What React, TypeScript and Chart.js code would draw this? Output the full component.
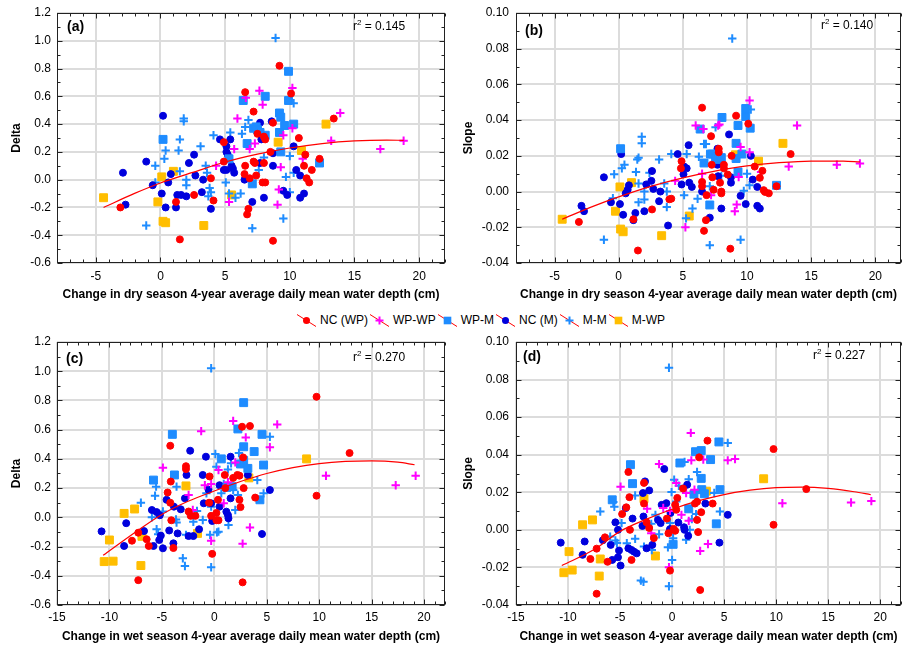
import React, { useEffect, useRef } from 'react';
import { Chart, registerables } from 'chart.js';
Chart.register(...registerables);

const FONT = '"Liberation Sans", Arial, Helvetica, sans-serif';

type Pt = [number, number];

// ---------- tick labels ----------
const xTicksDry = [-5, 0, 5, 10, 15, 20];
const xTicksWet = [-15, -10, -5, 0, 5, 10, 15, 20];
const yTicksDelta = [-0.6, -0.4, -0.2, 0, 0.2, 0.4, 0.6, 0.8, 1.0, 1.2];
const yTicksSlope = [-0.04, -0.02, 0, 0.02, 0.04, 0.06, 0.08, 0.1];

const seriesNames = ['NC (WP)', 'WP-WP', 'WP-M', 'NC (M)', 'M-M', 'M-WP'];

// ---------- panel (a): Delta vs dry-season change ----------
const aNCWP: Pt[] = [[-3.1,-0.20],[1.2,-0.16],[1.5,-0.43],[2.6,-0.11],[3.9,0.01],[4.1,-0.15],[4.9,0.27],[4.9,0.13],[6.55,0.63],[6.55,0.10],[6.5,0.04],[6.7,-0.25],[6.8,-0.21],[6.9,0.01],[7.2,0.49],[7.2,0.13],[7.3,0.12],[7.4,0.03],[7.5,0.33],[8.1,0.29],[8.0,0.31],[8.0,0.12],[7.9,-0.02],[8.1,-0.02],[8.5,0.20],[8.7,0.41],[8.7,-0.44],[9.2,0.82],[10.1,0.62],[10.7,0.30],[11.1,0.10],[11.2,0.18],[11.3,0.01],[11.5,-0.02],[11.7,0.07],[12.3,0.15],[13.4,0.44]];
const aWPWP: Pt[] = [[4.3,0.10],[5.3,-0.16],[5.7,0.22],[5.95,0.44],[6.6,0.59],[6.9,0.22],[7.3,0.26],[7.65,0.64],[7.9,0.54],[9.15,-0.07],[9.05,-0.18],[9.3,0.09],[9.5,0.32],[10.2,0.66],[10.2,0.37],[11.0,0.15],[13.2,0.28],[13.9,0.48],[17.0,0.22],[18.8,0.28]];
const aWPM: Pt[] = [[0.2,0.29],[5.3,0.15],[6.4,0.57],[6.7,0.26],[7.2,0.37],[7.4,0.38],[7.5,0.36],[7.7,0.34],[8.1,0.60],[8.1,0.32],[7.1,-0.03],[9.2,0.48],[9.3,0.45],[9.2,0.34],[9.6,0.39],[9.9,0.78],[9.9,0.57],[10.3,0.40],[9.3,0.20],[12.3,0.12]];
const aNCM: Pt[] = [[-2.9,0.05],[-2.7,-0.18],[-1.1,0.13],[-0.6,-0.04],[0.1,-0.10],[0.2,0.46],[0.4,-0.20],[0.6,-0.02],[0.8,0.04],[1.3,-0.11],[1.2,-0.20],[1.6,-0.11],[2.0,-0.12],[2.2,0.12],[2.6,0.18],[2.7,0.03],[3.2,-0.09],[3.3,0.00],[3.9,-0.21],[4.6,0.29],[4.9,0.07],[5.1,0.24],[5.1,0.20],[5.2,0.18],[5.1,0.07],[5.4,0.29],[5.5,0.10],[5.6,0.08],[5.7,0.05],[6.5,0.00],[7.1,-0.16],[7.7,0.41],[7.8,0.29],[7.7,0.12],[8.0,-0.13],[8.6,0.42],[8.7,0.19],[8.7,0.10],[9.5,-0.08],[9.8,-0.11],[10.3,0.24],[10.5,0.07],[10.8,0.03],[10.8,-0.13],[11.1,-0.10]];
const aMM: Pt[] = [[-1.1,-0.33],[-0.4,0.10],[-0.4,-0.02],[0.3,0.15],[0.4,0.21],[1.8,0.44],[1.8,0.42],[1.5,0.29],[1.4,0.21],[1.5,0.06],[2.0,0.00],[2.0,-0.04],[3.1,0.24],[3.5,0.10],[3.6,0.05],[3.8,-0.06],[3.9,-0.09],[4.1,0.32],[3.7,-0.12],[5.05,-0.02],[5.4,0.34],[5.3,-0.10],[6.2,-0.10],[5.8,-0.13],[6.3,0.33],[6.55,0.38],[6.8,0.43],[7.1,-0.35],[7.6,0.07],[8.0,0.16],[8.9,1.02],[9.7,0.02],[9.5,-0.28],[10.0,0.17],[10.0,-0.09],[10.3,0.55],[10.3,0.05]];
const aMWP: Pt[] = [[-4.4,-0.13],[-0.2,-0.16],[0.1,0.02],[0.2,-0.30],[0.4,-0.31],[1.0,0.06],[3.35,-0.33],[5.5,-0.11],[9.1,0.27],[10.9,0.21],[12.8,0.40]];
const aFit: Pt[] = [[-4.4,-0.20],[-2,-0.099],[0,-0.024],[2.5,0.052],[5,0.127],[7.5,0.184],[10,0.228],[12.5,0.26],[15,0.279],[17.5,0.285],[18.8,0.283]];

// ---------- panel (b): Slope vs dry-season change ----------
const bNCWP: Pt[] = [[-3.1,-0.017],[1.5,-0.033],[1.15,-0.0155],[2.6,-0.010],[3.95,-0.0043],[4.1,-0.004],[4.9,0.017],[4.85,0.013],[6.5,0.047],[6.5,0.0054],[6.5,0.003],[6.65,-0.022],[6.8,-0.016],[6.85,-0.002],[7.2,0.031],[7.25,0.015],[7.3,0.008],[7.4,0.001],[7.8,0.024],[7.8,0.022],[8.2,0.015],[8.2,0.013],[7.9,0.005],[8.0,0.0],[8.0,-0.001],[8.5,0.0095],[8.8,0.020],[8.7,-0.032],[9.15,0.0425],[10.1,0.038],[10.6,0.014],[11.2,0.0116],[11.0,0.0077],[11.3,0.0008],[11.4,-0.0002],[11.7,-0.001],[12.3,0.003],[13.4,0.021]];
const bWPWP: Pt[] = [[4.4,0.006],[5.2,-0.020],[6.0,0.037],[6.6,0.035],[6.5,0.010],[7.2,-0.002],[7.75,0.037],[7.85,0.0375],[9.2,-0.0073],[9.05,-0.011],[9.35,0.0082],[9.5,0.025],[10.2,0.051],[10.2,0.022],[11.1,0.011],[13.25,0.014],[13.9,0.037],[17.0,0.015],[18.8,0.0157]];
const bWPM: Pt[] = [[0.15,0.024],[6.35,0.035],[6.65,0.016],[7.15,0.021],[7.3,0.021],[7.55,0.019],[7.8,0.018],[8.0,0.019],[8.05,0.0415],[7.1,-0.0075],[9.15,0.027],[9.3,0.037],[9.15,0.0185],[9.3,0.011],[9.6,0.021],[9.9,0.0465],[9.9,0.042],[10.25,0.0355],[12.3,0.0035]];
const bNCM: Pt[] = [[-2.9,-0.008],[-2.7,-0.011],[-1.15,0.008],[-0.6,-0.006],[0.1,-0.007],[0.2,0.021],[0.35,-0.013],[0.55,-0.001],[0.7,0.001],[0.8,0.0035],[1.15,-0.016],[1.3,-0.012],[2.0,-0.011],[2.15,0.004],[2.55,0.006],[2.6,0.0115],[2.7,0.0015],[3.15,-0.0054],[3.25,0.0],[3.85,-0.019],[4.6,0.021],[4.9,0.004],[5.1,0.014],[5.05,0.0097],[5.3,0.013],[5.45,0.026],[5.5,0.005],[5.7,0.0026],[6.5,0.0],[7.1,-0.0146],[7.7,0.024],[7.7,0.015],[7.75,0.0086],[8.0,-0.0095],[8.6,0.032],[8.75,0.008],[8.75,0.005],[9.5,-0.0024],[9.9,-0.007],[10.3,0.020],[10.45,0.0067],[10.8,0.0026],[10.8,-0.008],[11.0,-0.0095]];
const bMM: Pt[] = [[-1.15,-0.027],[-0.35,0.0097],[-0.45,-0.0037],[0.25,0.013],[0.45,0.015],[1.8,0.0307],[1.8,0.027],[1.45,0.018],[1.55,0.019],[1.35,0.011],[1.55,0.0045],[1.55,-0.006],[2.0,0.0],[2.0,-0.0045],[2.4,0.0105],[3.15,0.018],[3.55,0.0045],[3.75,0.0],[3.75,-0.0086],[4.1,0.021],[5.1,-0.002],[5.3,0.021],[5.25,-0.015],[5.75,-0.0095],[6.15,-0.004],[6.25,0.0195],[6.65,0.0266],[6.8,0.0266],[7.55,0.036],[7.1,-0.030],[7.1,0.003],[8.0,0.0088],[8.85,0.0857],[9.5,-0.027],[9.75,0.0004],[10.0,0.010],[10.2,0.0035],[10.3,0.046]];
const bMWP: Pt[] = [[-4.4,-0.0155],[-0.25,-0.011],[0.1,0.0026],[0.15,-0.021],[0.35,-0.0225],[1.0,0.005],[3.35,-0.0247],[5.5,-0.0137],[9.1,0.0206],[10.9,0.017],[12.8,0.027]];
const bFit: Pt[] = [[-4.4,-0.0155],[-2,-0.0083],[0,-0.003],[2.5,0.0029],[5,0.0077],[7.5,0.0115],[10,0.0144],[12.5,0.0162],[15,0.0171],[17.5,0.017],[18.8,0.0166]];

// ---------- panel (c): Delta vs wet-season change ----------
const cNCWP: Pt[] = [[-7.25,-0.105],[-7.85,-0.16],[-7.25,-0.43],[-6.45,-0.15],[-6.25,-0.196],[-4.2,0.10],[-4.45,0.17],[-4.15,0.245],[-4.2,0.49],[-4.1,-0.02],[-3.9,-0.21],[-2.7,0.35],[-2.7,0.33],[-2.45,0.04],[-2.25,0.01],[-1.8,0.01],[-0.5,0.10],[-0.45,0.28],[-0.3,0.01],[-0.2,-0.25],[0.2,0.03],[0.2,-0.02],[0.4,-0.02],[0.35,0.12],[1.0,0.29],[1.05,0.20],[1.8,0.27],[2.2,0.29],[2.4,0.285],[2.4,0.12],[2.5,0.07],[2.65,0.62],[2.7,-0.445],[2.75,0.41],[2.8,0.20],[3.4,0.625],[3.9,0.135],[9.75,0.825],[9.75,0.148],[12.9,0.44]];
const cWPWP: Pt[] = [[-4.9,0.34],[-2.45,0.153],[-2.05,0.05],[-1.25,0.59],[-0.9,0.22],[-0.3,-0.16],[-0.3,0.228],[0.4,0.324],[0.9,0.096],[1.3,0.24],[1.8,0.66],[2.0,0.376],[2.7,-0.18],[3.0,0.547],[3.4,-0.07],[5.3,0.48],[6.0,0.636],[10.65,0.285],[17.3,0.22],[19.2,0.285]];
const cWPM: Pt[] = [[-5.8,0.255],[-4.0,0.568],[-3.8,0.29],[0.67,0.40],[1.2,0.205],[1.7,0.21],[2.25,0.605],[2.5,0.365],[2.8,0.785],[2.8,0.483],[2.8,0.39],[3.2,0.335],[3.8,0.45],[4.55,0.568],[4.7,0.358],[4.35,0.12]];
const cNCM: Pt[] = [[-10.75,-0.096],[-8.6,-0.196],[-8.4,-0.04],[-6.7,-0.094],[-5.95,0.05],[-5.8,-0.196],[-5.5,0.036],[-5.25,-0.155],[-5.2,0.014],[-5.1,-0.125],[-4.9,-0.212],[-4.55,0.12],[-4.3,-0.09],[-3.9,-0.178],[-3.85,0.073],[-3.5,-0.11],[-3.2,0.055],[-2.8,0.13],[-2.65,0.29],[-2.45,-0.128],[-2.3,0.456],[-2.0,-0.128],[-1.45,-0.082],[-1.1,0.29],[-1.0,0.096],[-0.8,0.415],[-0.55,0.19],[-0.3,0.096],[-0.2,-0.025],[0.5,0.22],[0.5,0.073],[1.15,0.039],[1.3,0.016],[1.35,-0.007],[1.55,0.415],[1.55,0.13],[3.2,0.29],[4.55,-0.114],[5.3,0.187]];
const cMM: Pt[] = [[-7.0,0.10],[-5.95,0.0],[-5.65,0.148],[-5.55,0.21],[-5.5,-0.082],[-5.35,-0.116],[-4.9,0.04],[-3.6,0.21],[-3.65,-0.014],[-3.6,-0.036],[-3.0,-0.28],[-2.8,-0.333],[-2.7,-0.12],[-2.0,-0.03],[-1.65,0.043],[-1.1,-0.018],[-0.75,0.164],[-0.4,-0.12],[-0.3,-0.342],[-0.3,1.02],[-0.3,0.073],[0.1,0.433],[0.2,0.347],[0.25,-0.103],[0.4,-0.098],[0.67,0.164],[0.9,0.228],[1.3,0.328],[1.35,-0.052],[1.6,0.37],[1.8,0.187],[2.0,0.05],[2.25,0.153],[2.35,0.44],[4.1,0.255],[4.7,0.164],[5.3,0.552]];
const cMWP: Pt[] = [[-10.5,-0.303],[-9.65,-0.30],[-10.0,-0.155],[-8.6,0.027],[-7.6,0.057],[-7.0,-0.33],[-6.9,-0.13],[-2.7,0.215],[-1.6,-0.11],[3.3,0.27],[8.8,0.40]];
const cFit: Pt[] = [[-10.6,-0.26],[-7.5,-0.10],[-5,0.02],[-2.5,0.11],[0,0.18],[2.5,0.245],[5,0.30],[7.5,0.34],[10,0.368],[12.5,0.383],[15,0.387],[17.5,0.378],[19.1,0.36]];

// ---------- panel (d): Slope vs wet-season change ----------
const dNCWP: Pt[] = [[-7.25,-0.034],[-7.25,-0.010],[-7.85,-0.0155],[-6.45,-0.004],[-6.2,-0.017],[-4.8,0.0084],[-4.4,0.012],[-4.2,0.0308],[-4.1,0.0174],[-4.05,0.0],[-3.9,-0.016],[-2.7,0.025],[-2.7,0.014],[-2.45,0.004],[-2.2,0.001],[-1.75,-0.0044],[-0.5,0.006],[-0.35,-0.0018],[-0.2,-0.0217],[0.15,0.0005],[0.3,-0.0005],[0.3,0.0133],[0.4,0.0107],[0.5,0.017],[1.05,0.022],[2.2,0.014],[2.4,0.015],[2.4,0.0053],[2.5,-0.0012],[2.6,0.0386],[2.7,-0.032],[2.8,0.0094],[3.4,0.0475],[3.9,0.014],[9.75,0.043],[9.75,0.0027],[12.9,0.0217]];
const dWPWP: Pt[] = [[-4.95,0.023],[-2.4,0.0112],[-2.0,-0.0018],[-1.25,0.035],[-0.85,0.0116],[-0.3,-0.0199],[-0.2,0.0101],[0.4,0.025],[0.9,0.008],[1.35,0.0196],[1.6,0.0048],[1.8,0.0516],[1.85,0.037],[2.15,0.0214],[2.7,-0.0112],[3.0,0.0374],[3.45,-0.0075],[5.35,0.037],[6.05,0.0377],[10.6,0.0142],[17.2,0.0146],[19.15,0.0153]];
const dWPM: Pt[] = [[-5.75,0.016],[-4.0,0.0347],[-3.8,0.0246],[0.1,-0.0077],[0.75,0.0356],[1.6,0.0112],[2.1,0.019],[2.25,0.0416],[2.8,0.0422],[2.8,0.0274],[2.85,0.0214],[3.1,0.0192],[3.7,0.0374],[4.5,0.0468],[4.6,0.0214],[4.25,0.0032]];
const dNCM: Pt[] = [[-10.7,-0.0068],[-8.6,-0.0133],[-8.4,-0.0062],[-6.65,-0.0055],[-5.9,-0.008],[-5.75,-0.016],[-5.45,0.004],[-5.2,0.0],[-5.1,-0.011],[-5.2,-0.0146],[-4.95,-0.019],[-4.45,0.0116],[-4.2,-0.0098],[-3.8,0.006],[-3.9,-0.0107],[-3.65,-0.0116],[-3.4,-0.0125],[-2.85,0.0021],[-2.75,0.0071],[-2.8,0.0196],[-2.6,0.0258],[-2.45,-0.0098],[-2.2,0.021],[-1.9,-0.008],[-1.35,0.0053],[-1.1,0.0036],[-1.0,0.0133],[-0.75,0.0324],[-0.55,0.0142],[-0.15,0.009],[-0.2,0.0004],[0.6,0.0039],[1.15,0.0014],[1.2,0.0],[1.45,0.024],[1.55,-0.0032],[3.2,0.014],[4.55,-0.0068],[5.35,0.008]];
const dMM: Pt[] = [[-6.9,0.0098],[-5.95,-0.0036],[-5.65,0.0148],[-5.55,0.0123],[-5.45,-0.0057],[-5.3,-0.007],[-4.85,0.0036],[-4.35,-0.0071],[-3.55,0.0183],[-3.55,-0.0048],[-3.0,-0.027],[-2.75,-0.0276],[-2.7,-0.0089],[-2.0,0.0032],[-1.95,-0.0107],[-1.6,0.008],[-1.25,-0.0023],[-0.4,-0.0093],[-0.3,-0.030],[-0.3,0.0863],[-0.2,0.0036],[-0.05,0.0201],[0.2,0.0267],[0.1,-0.0045],[0.0,-0.016],[0.4,0.0151],[0.65,0.0235],[1.2,0.0361],[1.35,-0.0053],[1.6,0.027],[1.7,0.0],[1.9,0.0057],[2.4,0.0308],[2.3,0.0084],[4.05,0.0196],[4.6,0.0098],[5.35,0.0463]];
const dMWP: Pt[] = [[-10.4,-0.0228],[-9.6,-0.0214],[-9.9,-0.0116],[-8.6,0.0027],[-7.65,0.0053],[-7.0,-0.0246],[-6.9,-0.0155],[-2.7,0.0166],[-1.6,-0.0139],[3.3,0.0206],[8.8,0.0272]];
const dFit: Pt[] = [[-10.6,-0.019],[-7.5,-0.0105],[-5,-0.0008],[-2.5,0.0056],[0,0.011],[2.5,0.0154],[5,0.0188],[7.5,0.0211],[10,0.0225],[12.5,0.0228],[15,0.0221],[17.5,0.0203],[19.1,0.0187]];

// ---------- styles ----------
const seriesStyle = [
  { color: '#ff0000', style: 'circle', r: 3.5, bw: 1 },
  { color: '#ff00ff', style: 'cross', r: 4.2, bw: 2 },
  { color: '#1e8cff', style: 'rect', r: 5.6, bw: 1 },
  { color: '#0000dd', style: 'circle', r: 3.5, bw: 1 },
  { color: '#1e8cff', style: 'cross', r: 4.2, bw: 2 },
  { color: '#ffbe00', style: 'rect', r: 5.6, bw: 1 },
];

interface PanelCfg {
  left: number; top: number; w: number; h: number;
  padTop: number; padRight: number; yWidth: number; xHeight: number;
  yTitlePad: number; yTickPad: number; xTickPad: number;
  xMin: number; xMax: number; xTicks: number[];
  yMin: number; yMax: number; yTicks: number[]; yDec: number; yMinor: number;
  xTitle: string; yTitle: string;
  series: Pt[][]; fit: Pt[];
  label: string; labelX: number; labelY: number;
  r2: string; r2X: number; r2Y: number;
}

const dryTitle = 'Change in dry season 4-year average daily mean water depth (cm)';
const wetTitle = 'Change in wet season 4-year average daily mean water depth (cm)';

const panels: PanelCfg[] = [
  { left: 0, top: 0, w: 450, h: 302, padTop: 13, padRight: 5, yWidth: 57, xHeight: 39, yTitlePad: 9, yTickPad: 6, xTickPad: 6,
    xMin: -8, xMax: 22, xTicks: xTicksDry, yMin: -0.6, yMax: 1.2, yTicks: yTicksDelta, yDec: 1, yMinor: 0.1,
    xTitle: dryTitle, yTitle: 'Delta', series: [aNCWP, aWPWP, aWPM, aNCM, aMM, aMWP], fit: aFit,
    label: '(a)', labelX: 67, labelY: 27, r2: '0.145', r2X: 353, r2Y: 27 },
  { left: 450, top: 0, w: 453, h: 302, padTop: 13, padRight: 2, yWidth: 66, xHeight: 39, yTitlePad: 11, yTickPad: 7, xTickPad: 6,
    xMin: -8, xMax: 22, xTicks: xTicksDry, yMin: -0.04, yMax: 0.1, yTicks: yTicksSlope, yDec: 2, yMinor: 0.01,
    xTitle: dryTitle, yTitle: 'Slope', series: [bNCWP, bWPWP, bWPM, bNCM, bMM, bMWP], fit: bFit,
    label: '(b)', labelX: 75, labelY: 31, r2: '0.140', r2X: 371, r2Y: 26 },
  { left: 0, top: 330, w: 450, h: 314, padTop: 12, padRight: 5, yWidth: 57, xHeight: 39, yTitlePad: 9, yTickPad: 6, xTickPad: 5,
    xMin: -15, xMax: 22, xTicks: xTicksWet, yMin: -0.6, yMax: 1.2, yTicks: yTicksDelta, yDec: 1, yMinor: 0.1,
    xTitle: wetTitle, yTitle: 'Delta', series: [cNCWP, cWPWP, cWPM, cNCM, cMM, cMWP], fit: cFit,
    label: '(c)', labelX: 66, labelY: 29, r2: '0.270', r2X: 353, r2Y: 28 },
  { left: 450, top: 330, w: 453, h: 314, padTop: 12, padRight: 2, yWidth: 66, xHeight: 39, yTitlePad: 11, yTickPad: 7, xTickPad: 5,
    xMin: -15, xMax: 22, xTicks: xTicksWet, yMin: -0.04, yMax: 0.1, yTicks: yTicksSlope, yDec: 2, yMinor: 0.01,
    xTitle: wetTitle, yTitle: 'Slope', series: [dNCWP, dWPWP, dWPM, dNCM, dMM, dMWP], fit: dFit,
    label: '(d)', labelX: 73, labelY: 27, r2: '0.227', r2X: 363, r2Y: 26 },
];

function makeDeco(cfg: PanelCfg) {
  return {
    id: 'deco',
    afterDraw(chart: any) {
      const { ctx, chartArea: ca, scales } = chart;
      const xs = scales.x, ys = scales.y;
      ctx.save();
      ctx.strokeStyle = '#222';
      ctx.lineWidth = 1;
      const L = Math.round(ca.left) + 0.5, R = Math.round(ca.right) - 0.5;
      const T = Math.round(ca.top) + 0.5, B = Math.round(ca.bottom) - 0.5;
      ctx.beginPath();
      for (let v = Math.ceil(cfg.xMin); v <= cfg.xMax; v += 1) {
        const px = Math.round(xs.getPixelForValue(v)) + 0.5;
        const len = v % 5 === 0 ? 5 : 3;
        ctx.moveTo(px, B); ctx.lineTo(px, B - len);
        ctx.moveTo(px, T); ctx.lineTo(px, T + len);
      }
      const k0 = Math.ceil(cfg.yMin / cfg.yMinor - 1e-6), k1 = Math.floor(cfg.yMax / cfg.yMinor + 1e-6);
      for (let k = k0; k <= k1; k++) {
        const py = Math.round(ys.getPixelForValue(k * cfg.yMinor)) + 0.5;
        const len = k % 2 === 0 ? 5 : 3;
        ctx.moveTo(L, py); ctx.lineTo(L + len, py);
        ctx.moveTo(R, py); ctx.lineTo(R - len, py);
      }
      ctx.stroke();
      ctx.strokeRect(L, T, R - L, B - T);
      ctx.fillStyle = '#000';
      ctx.textBaseline = 'middle';
      ctx.textAlign = 'left';
      ctx.font = `bold 14px ${FONT}`;
      ctx.fillText(cfg.label, cfg.labelX, cfg.labelY);
      ctx.font = `12px ${FONT}`;
      ctx.fillText('r', cfg.r2X, cfg.r2Y);
      const w1 = ctx.measureText('r').width;
      ctx.font = `8px ${FONT}`;
      ctx.fillText('2', cfg.r2X + w1, cfg.r2Y - 4);
      const w2 = ctx.measureText('2').width;
      ctx.font = `12px ${FONT}`;
      ctx.fillText(' = ' + cfg.r2, cfg.r2X + w1 + w2, cfg.r2Y);
      ctx.restore();
    },
  };
}

function Panel({ cfg }: { cfg: PanelCfg }) {
  const ref = useRef<HTMLCanvasElement | null>(null);
  useEffect(() => {
    if (!ref.current) return;
    const datasets: any[] = [
      {
        label: 'fit',
        data: cfg.fit.map(([x, y]) => ({ x, y })),
        showLine: true,
        pointRadius: 0,
        borderColor: '#ff0000',
        backgroundColor: '#ff0000',
        borderWidth: 1.2,
        cubicInterpolationMode: 'monotone',
      },
      ...cfg.series.map((s, i) => ({
        label: seriesNames[i],
        data: s.map(([x, y]) => ({ x, y })),
        pointStyle: seriesStyle[i].style,
        pointRadius: seriesStyle[i].r,
        pointBorderWidth: seriesStyle[i].bw,
        backgroundColor: seriesStyle[i].color,
        borderColor: seriesStyle[i].color,
        showLine: false,
      })),
    ];
    const chart = new Chart(ref.current, {
      type: 'scatter',
      data: { datasets },
      options: {
        responsive: false,
        animation: false,
        devicePixelRatio: 1,
        events: [],
        layout: { autoPadding: false, padding: { top: cfg.padTop, right: cfg.padRight, left: 0, bottom: 0 } },
        plugins: { legend: { display: false }, tooltip: { enabled: false } },
        scales: {
          x: {
            type: 'linear',
            min: cfg.xMin,
            max: cfg.xMax,
            afterBuildTicks: (s: any) => { s.ticks = cfg.xTicks.map((v) => ({ value: v })); },
            afterFit: (s: any) => { s.height = cfg.xHeight; s.paddingLeft = 0; s.paddingRight = 0; },
            grid: { color: '#dcdcdc', lineWidth: 2, drawTicks: false },
            border: { display: false },
            ticks: {
              padding: cfg.xTickPad, autoSkip: false, maxRotation: 0, color: '#000',
              font: { family: FONT, size: 12 },
              callback: (v: any) => String(v),
            },
            title: {
              display: true, text: cfg.xTitle, color: '#000',
              font: { family: FONT, size: 12, weight: 'bold' },
              padding: { top: 0, bottom: 0 },
            },
          },
          y: {
            type: 'linear',
            min: cfg.yMin,
            max: cfg.yMax,
            afterBuildTicks: (s: any) => { s.ticks = cfg.yTicks.map((v) => ({ value: v })); },
            afterFit: (s: any) => { s.width = cfg.yWidth; s.paddingTop = 0; s.paddingBottom = 0; },
            grid: { color: '#dcdcdc', lineWidth: 2, drawTicks: false },
            border: { display: false },
            ticks: {
              padding: cfg.yTickPad, autoSkip: false, color: '#000',
              font: { family: FONT, size: 12 },
              callback: (v: any) => Number(v).toFixed(cfg.yDec),
            },
            title: {
              display: true, text: cfg.yTitle, color: '#000',
              font: { family: FONT, size: 12, weight: 'bold' },
              padding: { top: cfg.yTitlePad, bottom: 0 },
            },
          },
        },
      } as any,
      plugins: [makeDeco(cfg)],
    });
    return () => chart.destroy();
  }, [cfg]);
  return (
    <div style={{ position: 'absolute', left: cfg.left, top: cfg.top, width: cfg.w, height: cfg.h }}>
      <canvas ref={ref} width={cfg.w} height={cfg.h} style={{ display: 'block', width: cfg.w, height: cfg.h }} />
    </div>
  );
}

function LegendIcon({ i }: { i: number }) {
  const s = seriesStyle[i];
  const cx = 9.5, cy = 6.5;
  let marker: React.ReactNode = null;
  if (s.style === 'circle') marker = <circle cx={cx} cy={cy} r={3.5} fill={s.color} />;
  else if (s.style === 'rect') marker = <rect x={cx - 3.8} y={cy - 3.8} width={7.6} height={7.6} fill={s.color} />;
  else marker = (
    <g stroke={s.color} strokeWidth={2}>
      <line x1={cx - 4} y1={cy} x2={cx + 4} y2={cy} />
      <line x1={cx} y1={cy - 4} x2={cx} y2={cy + 4} />
    </g>
  );
  return (
    <svg width={19} height={13} style={{ display: 'block' }}>
      <line x1={0} y1={0.5} x2={19} y2={12.5} stroke="#ff0000" strokeWidth={1} />
      {marker}
    </svg>
  );
}

export default function App() {
  return (
    <div style={{ position: 'absolute', left: 0, top: 0, width: 903, height: 646, background: '#fff', overflow: 'hidden' }}>
      {panels.map((p, i) => <Panel key={i} cfg={p} />)}
      <div style={{ position: 'absolute', left: 297, top: 313, height: 14, display: 'flex', alignItems: 'center', fontFamily: FONT, fontSize: 12, color: '#000', whiteSpace: 'nowrap' }}>
        {seriesNames.map((n, i) => (
          <div key={n} style={{ display: 'flex', alignItems: 'center' }}>
            <LegendIcon i={i} />
            <span style={{ marginLeft: 4, marginRight: 2, lineHeight: '14px' }}>{n}</span>
          </div>
        ))}
      </div>
    </div>
  );
}
